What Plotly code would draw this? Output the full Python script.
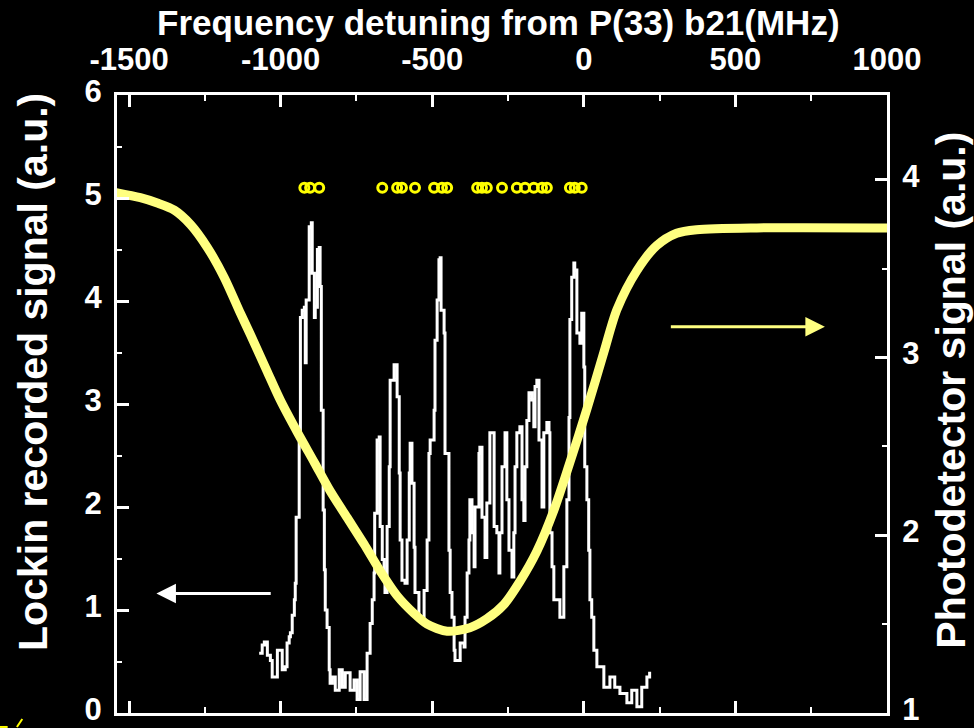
import plotly.graph_objects as go

# Lock-in recorded signal (left axis)
lockin_freq = [-1071, -1061, -1054, -1044, -1034, -1028, -1018, -1011, -1001, -995, -985, -979, -972, -968,
               -962, -955, -952, -949, -939, -935, -929, -922, -919, -916, -906, -899, -896, -889, -886, -879,
               -873, -870, -866, -860, -856, -853, -847, -840, -837, -830, -820, -807, -797, -787, -771, -758,
               -748, -738, -725, -715, -705, -698, -692, -690, -682, -675, -672, -665, -659, -656, -649, -642,
               -639, -626, -616, -609, -606, -600, -590, -583, -576, -573, -567, -560, -557, -544, -534, -527,
               -517, -511, -507, -494, -491, -484, -478, -474, -471, -461, -458, -445, -441, -435, -428, -425,
               -408, -395, -392, -385, -379, -376, -369, -362, -359, -346, -343, -336, -326, -320, -310, -303,
               -296, -287, -280, -277, -270, -260, -254, -247, -237, -231, -227, -221, -211, -204, -198, -194,
               -188, -181, -171, -165, -161, -155, -148, -138, -132, -122, -115, -112, -105, -99, -89, -79,
               -66, -56, -49, -46, -40, -33, -30, -23, -13, -7, 0, 3, 10, 16, 20, 26, 33, 43, 53, 66, 86, 102,
               119, 142, 158, 175, 191, 208, 217]
lockin_signal = [0.58, 0.66, 0.69, 0.56, 0.51, 0.35, 0.35, 0.61, 0.61, 0.42, 0.45, 0.68, 0.74, 0.78,
                 0.95, 1.10, 1.26, 1.90, 2.62, 3.84, 3.91, 3.94, 3.40, 4.01, 4.72, 4.76, 4.27, 3.84, 3.94, 4.50,
                 4.52, 4.14, 2.94, 1.97, 1.39, 1.00, 0.83, 0.42, 0.29, 0.35, 0.22, 0.42, 0.25, 0.39, 0.22, 0.32,
                 0.13, 0.40, 0.13, 0.58, 0.87, 1.10, 1.36, 1.94, 2.65, 2.68, 1.81, 1.49, 1.36, 1.17, 1.81, 2.39,
                 3.23, 3.38, 3.07, 2.33, 1.68, 1.29, 1.26, 1.68, 2.33, 2.62, 2.23, 1.61, 1.17, 0.93, 0.90, 1.19,
                 1.68, 2.52, 2.65, 2.94, 3.62, 4.01, 4.40, 4.42, 3.91, 3.69, 2.52, 1.58, 1.17, 0.93, 0.61, 0.51,
                 0.68, 0.64, 0.93, 1.36, 1.68, 2.07, 1.75, 1.42, 2.00, 2.52, 2.58, 1.90, 1.51, 2.04, 2.72, 2.72,
                 1.81, 1.75, 1.36, 1.75, 2.39, 2.72, 2.07, 1.58, 1.32, 1.75, 2.39, 2.72, 2.78, 2.07, 1.87, 2.39,
                 2.84, 3.11, 3.04, 2.78, 3.17, 3.23, 2.65, 2.00, 2.72, 2.82, 2.72, 1.75, 1.42, 1.10, 1.10, 0.93,
                 1.42, 2.07, 2.87, 3.82, 4.23, 4.37, 4.30, 3.69, 3.59, 3.88, 3.36, 2.39, 2.07, 1.58, 1.10, 0.93,
                 0.61, 0.45, 0.45, 0.25, 0.35, 0.25, 0.19, 0.10, 0.22, 0.06, 0.25, 0.35, 0.40]

# Photodetector signal (right axis)
photo_freq = [-1548, -1463, -1407, -1351, -1298, -1242, -1186, -1133, -1100, -1044, -1001, -945, -889, -837,
              -781, -725, -672, -616, -560, -517, -451, -376, -320, -264, -211, -155, -99, -46, 10, 66, 109,
              175, 240, 306, 372, 570, 1000]
photo_signal = [3.93, 3.90, 3.87, 3.83, 3.75, 3.62, 3.45, 3.25, 3.13, 2.92, 2.76, 2.58, 2.41, 2.25,
                2.10, 1.95, 1.80, 1.66, 1.56, 1.50, 1.46, 1.48, 1.53, 1.61, 1.74, 1.91, 2.14, 2.41, 2.71, 3.03,
                3.27, 3.49, 3.63, 3.70, 3.72, 3.73, 3.73]

# Calculated line positions (markers)
line_freq = [-922, -903, -873, -665, -616, -600, -557, -494, -468, -451, -352, -336, -320, -270,
             -221, -194, -165, -138, -122, -46, -30, -7]
line_level = [5.1] * len(line_freq)

x_ticks = [-1500, -1000, -500, 0, 500, 1000]
x_ticktext = ["-1500", "-1000", "-500", "0", "500", "1000"]
left_ticks = [0, 1, 2, 3, 4, 5, 6]
right_ticks = [1, 2, 3, 4]

WHITE = "#ffffff"
YELLOW = "#ffff80"
FONT = "Liberation Sans, Arial, sans-serif"

fig = go.Figure()

fig.add_trace(go.Scatter(x=photo_freq, y=photo_signal, mode="lines", yaxis="y2",
                         line=dict(color=YELLOW, width=9, shape="spline", smoothing=0.8),
                         showlegend=False, hoverinfo="skip"))
fig.add_trace(go.Scatter(x=lockin_freq, y=lockin_signal, mode="lines",
                         line=dict(color=WHITE, width=3, shape="hv"), showlegend=False))
fig.add_trace(go.Scatter(x=line_freq, y=line_level, mode="markers",
                         marker=dict(symbol="circle-open", size=9, color="#ffff00",
                                     line=dict(width=3, color="#ffff00")),
                         showlegend=False))
# top x axis needs a trace to render
fig.add_trace(go.Scatter(x=[-1540, 1000], y=[None, None], xaxis="x2", showlegend=False, hoverinfo="skip"))

# Arrows pointing to the respective axes
fig.add_annotation(x=-1410, y=1.16, ax=-1028, ay=1.16, xref="x", yref="y", axref="x", ayref="y",
                   showarrow=True, arrowhead=2, arrowsize=1.3, arrowwidth=3, arrowcolor=WHITE, text="")
fig.add_annotation(x=795, y=3.75, ax=282, ay=3.75, xref="x", yref="y", axref="x", ayref="y",
                   showarrow=True, arrowhead=2, arrowsize=1.3, arrowwidth=3, arrowcolor=YELLOW, text="")

# Titles
fig.add_annotation(text="<b>Frequency detuning from P(33) b21(MHz)</b>", xref="paper", yref="paper",
                   x=0.495, y=1.118, xanchor="center", yanchor="middle", showarrow=False,
                   font=dict(family=FONT, size=35, color=WHITE))
fig.add_annotation(text="<b>Lockin recorded signal (a.u.)</b>", xref="paper", yref="paper",
                   x=-0.109, y=0.552, xanchor="center", yanchor="middle", textangle=-90, showarrow=False,
                   font=dict(family=FONT, size=41, color=WHITE))
fig.add_annotation(text="<b>Photodetector signal (a.u.)</b>", xref="paper", yref="paper",
                   x=1.083, y=0.523, xanchor="center", yanchor="middle", textangle=-90, showarrow=False,
                   font=dict(family=FONT, size=41, color=WHITE))

# small yellow fragments at the bottom-left corner of the reference
fig.add_shape(type="line", xref="paper", yref="paper", x0=-0.152, y0=-0.0226, x1=-0.142, y1=-0.0226,
              line=dict(color="#ffff00", width=2))
fig.add_shape(type="line", xref="paper", yref="paper", x0=-0.130, y0=-0.0226, x1=-0.123, y1=-0.0097,
              line=dict(color="#ffff00", width=2))

tickfont = dict(family=FONT, size=31, color=WHITE, weight="bold")
axis_common = dict(showline=True, linecolor=WHITE, linewidth=3, ticks="inside", tickcolor=WHITE,
                   tickwidth=3, ticklen=12, showgrid=False, zeroline=False, automargin=False)
minor_x = dict(dtick=250, ticks="inside", ticklen=6, tickcolor=WHITE, tickwidth=2)
minor_y = dict(dtick=0.5, ticks="inside", ticklen=5, tickcolor=WHITE, tickwidth=2)

fig.update_layout(
    width=974, height=728,
    paper_bgcolor="black", plot_bgcolor="black",
    margin=dict(l=117, r=87, t=95, b=15),
    font=dict(family=FONT, color=WHITE),
    xaxis=dict(range=[-1540, 1000], tickvals=x_ticks, showticklabels=False, minor=minor_x, **axis_common),
    xaxis2=dict(range=[-1540, 1000], tickvals=x_ticks, ticktext=x_ticktext,
                overlaying="x", side="top", anchor="y", tickfont=tickfont, ticklabelstandoff=10,
                minor=minor_x, **axis_common),
    yaxis=dict(range=[0, 6], tickvals=left_ticks, tickfont=tickfont, ticklabelstandoff=6,
               ticklabelshift=-4, ticklabeloverflow="allow", minor=minor_y, **axis_common),
    yaxis2=dict(range=[1, 4.478], tickvals=right_ticks, overlaying="y", side="right", anchor="x",
                tickfont=tickfont, ticklabelstandoff=6, ticklabelshift=-4, ticklabeloverflow="allow",
                minor=minor_y, **axis_common),
)

fig.write_html("out.html", config={"displayModeBar": False},
               post_script="document.body.style.margin='0';document.body.style.overflow='hidden';")
